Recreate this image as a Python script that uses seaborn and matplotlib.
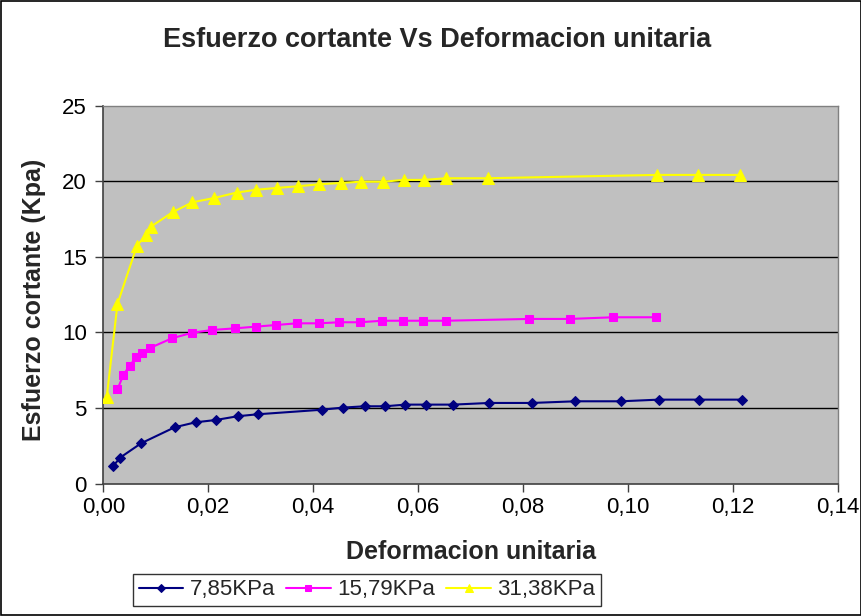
import matplotlib
matplotlib.use("Agg")
import matplotlib.pyplot as plt
import seaborn as sns
import pandas as pd
from matplotlib.patches import Rectangle

# ---- data ----
x_785 = [0.0019, 0.0032, 0.0072, 0.0136, 0.0176, 0.0214, 0.0256, 0.0294, 0.0416, 0.0456, 0.0498,
         0.0537, 0.0576, 0.0615, 0.0667, 0.0736, 0.0817, 0.0900, 0.0987, 0.1059, 0.1136, 0.1218]
y_785 = [1.16, 1.71, 2.66, 3.72, 4.05, 4.20, 4.45, 4.58, 4.88, 5.02, 5.11,
         5.11, 5.22, 5.22, 5.22, 5.33, 5.33, 5.44, 5.44, 5.55, 5.55, 5.55]

x_1579 = [0.0027, 0.0038, 0.0050, 0.0063, 0.0073, 0.0089, 0.0131, 0.0170, 0.0208, 0.0252, 0.0291, 0.0330,
          0.0369, 0.0411, 0.0450, 0.0489, 0.0532, 0.0571, 0.0610, 0.0653, 0.0812, 0.0890, 0.0972, 0.1053]
y_1579 = [6.23, 7.16, 7.80, 8.35, 8.66, 8.97, 9.61, 9.98, 10.16, 10.27, 10.38, 10.49,
          10.60, 10.60, 10.67, 10.67, 10.77, 10.77, 10.77, 10.77, 10.89, 10.89, 11.00, 11.00]

x_3138 = [0.00065, 0.0027, 0.0064, 0.0081, 0.0091, 0.0132, 0.0170, 0.0211, 0.0254, 0.0292, 0.0331, 0.0371,
          0.0412, 0.0453, 0.0491, 0.0534, 0.0573, 0.0611, 0.0654, 0.0733, 0.1055, 0.1133, 0.1214]
y_3138 = [5.70, 11.88, 15.72, 16.45, 17.00, 17.95, 18.61, 18.89, 19.25, 19.44, 19.56, 19.67,
          19.80, 19.89, 19.97, 19.97, 20.09, 20.09, 20.20, 20.20, 20.42, 20.42, 20.42]

series_labels = ["7,85KPa", "15,79KPa", "31,38KPa"]
x_ticks = [0.00, 0.02, 0.04, 0.06, 0.08, 0.10, 0.12, 0.14]
x_tick_labels = ["0,00", "0,02", "0,04", "0,06", "0,08", "0,10", "0,12", "0,14"]
y_ticks = [0, 5, 10, 15, 20, 25]

title = "Esfuerzo cortante Vs Deformacion unitaria"
xlabel = "Deformacion unitaria"
ylabel = "Esfuerzo cortante (Kpa)"

# ---- plot ----
sns.set_style("white")
plt.rcParams["font.family"] = ["Liberation Sans", "DejaVu Sans"]

fig = plt.figure(figsize=(8.62, 6.16), dpi=100)
fig.patch.set_facecolor("white")
ax = fig.add_axes([103.3 / 862, 1 - 483.5 / 616, (837.7 - 103.3) / 862, (483.5 - 105.7) / 616])
ax.set_facecolor("#C0C0C0")

styles = [
    (x_785, y_785, "#000080", "D", 5.2),
    (x_1579, y_1579, "#FF00FF", "s", 6.3),
    (x_3138, y_3138, "#FFFF00", "^", 8.0),
]
for (xs, ys, col, mk, ms), lab in zip(styles, series_labels):
    df = pd.DataFrame({"x": xs, "y": ys})
    sns.lineplot(data=df, x="x", y="y", ax=ax, color=col, marker=mk, markersize=ms,
                 markeredgecolor=col, markerfacecolor=col, linewidth=1.5, sort=False,
                 label=lab, zorder=3)

ax.set_xlim(0, 0.14)
ax.set_ylim(0, 25)
ax.set_xticks(x_ticks)
ax.set_xticklabels(x_tick_labels)
ax.set_yticks(y_ticks)
ax.grid(False)
for yv in y_ticks[1:-1]:
    ax.axhline(yv, color="black", linewidth=1, zorder=1)

for s in ["left", "bottom"]:
    ax.spines[s].set_color("#404040")
    ax.spines[s].set_linewidth(1.2)
for s in ["top", "right"]:
    ax.spines[s].set_color("#808080")
    ax.spines[s].set_linewidth(1.0)

ax.tick_params(axis="both", which="major", direction="out", length=6, width=1,
               color="#404040", labelsize=16, labelcolor="black", pad=4)
ax.tick_params(axis="y", pad=6)
ax.tick_params(left=True, bottom=True)

ax.set_xlabel(xlabel, fontsize=18, fontweight="bold")
ax.set_ylabel(ylabel, fontsize=18, fontweight="bold")
ax.xaxis.set_label_coords(0.5, -0.181)
ax.xaxis.label.set_va("center")
ax.yaxis.set_label_coords(-0.094, 0.486)
ax.yaxis.label.set_va("center")

fig.text(437 / 862, 1 - 40 / 616, title, ha="center", va="center",
         fontsize=19.5, fontweight="bold")

leg = ax.legend(loc="center", bbox_to_anchor=(367 / 862, 1 - 590 / 616),
                bbox_transform=fig.transFigure, ncol=3, frameon=True, fancybox=False,
                fontsize=16, handlelength=2.0, handletextpad=0.3, columnspacing=0.5,
                borderpad=0.25, markerscale=0.7)
leg.get_frame().set_edgecolor("black")
leg.get_frame().set_linewidth(1.0)
leg.get_frame().set_facecolor("white")

fig.patches.append(Rectangle((0.0007, 0.001), 0.9986, 0.998, transform=fig.transFigure,
                             fill=False, edgecolor="black", linewidth=1.2))

fig.savefig("out.png", dpi=100)
